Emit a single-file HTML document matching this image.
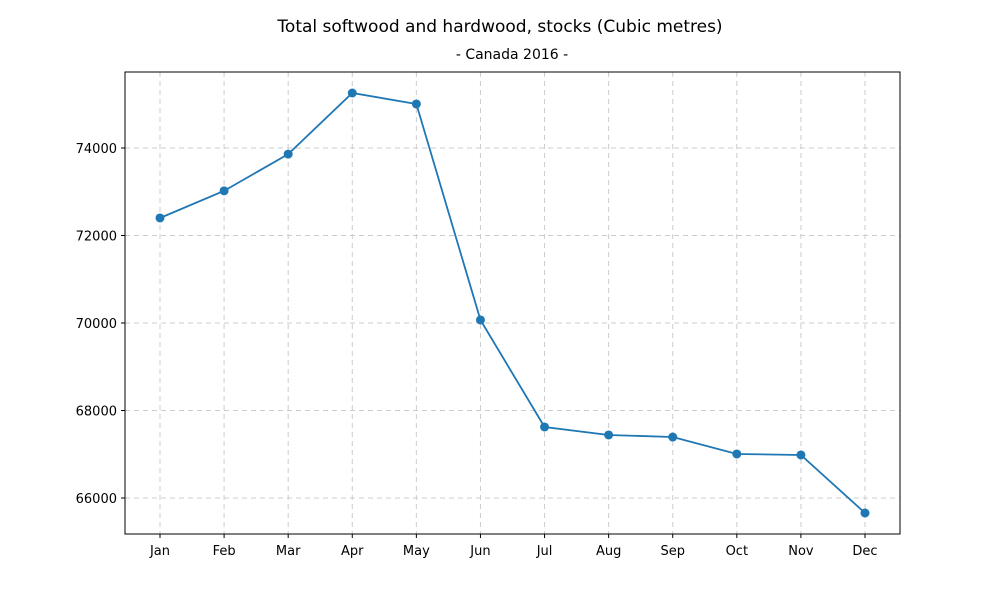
<!DOCTYPE html>
<html><head><meta charset="utf-8">
<style>
body{margin:0;background:#fff;}
svg{display:block;font-family:"DejaVu Sans","Liberation Sans",sans-serif;}
</style></head>
<body>
<svg id="chart" width="1000" height="600">
<text x="500" y="32" text-anchor="middle" font-size="17">Total softwood and hardwood, stocks (Cubic metres)</text>
<text x="512" y="59" text-anchor="middle" font-size="14">- Canada 2016 -</text>
<g id="grid"></g>
<g id="axes"></g>
<g id="series"></g>
<rect x="125" y="72" width="775" height="462" fill="none" stroke="#000" stroke-width="1"/>
</svg>
<script>
const categories=["Jan","Feb","Mar","Apr","May","Jun","Jul","Aug","Sep","Oct","Nov","Dec"];
const values=[72400,73020,73860,75257,75006,70069,67623,67440,67394,67006,66983,65657];
const yTicks=[66000,68000,70000,72000,74000];
const NS="http://www.w3.org/2000/svg";
const L=125,R=900,T=72,B=534,yMin=65177,yMax=75737;
const x=i=>160+i*(865-160)/(categories.length-1);
const y=v=>B-(v-yMin)/(yMax-yMin)*(B-T);
function mk(tag,attrs,parent){const e=document.createElementNS(NS,tag);for(const k in attrs)e.setAttribute(k,attrs[k]);parent.appendChild(e);return e;}
const grid=document.getElementById('grid'),axes=document.getElementById('axes'),series=document.getElementById('series');
categories.forEach((c,i)=>{
  const g=mk('line',{x1:x(i),x2:x(i),y1:T,y2:B,stroke:'#ccc','stroke-dasharray':'5,4'},grid);
  
  
  const t=mk('line',{x1:x(i),x2:x(i),y1:B,y2:B+4,stroke:'#000'},axes);
  
  
  const l=mk('text',{x:x(i),y:B+21,'text-anchor':'middle','font-size':'13'},axes);
  l.textContent=c;
  
  
});
yTicks.forEach(v=>{
  const g=mk('line',{x1:L,x2:R,y1:y(v),y2:y(v),stroke:'#ccc','stroke-dasharray':'5,4'},grid);
  
  
  const t=mk('line',{x1:L-4,x2:L,y1:y(v),y2:y(v),stroke:'#000'},axes);
  
  
  const l=mk('text',{x:L-8,y:y(v)+5,'text-anchor':'end','font-size':'13'},axes);
  l.textContent=v;
  
  
});
const line=mk('polyline',{points:values.map((v,i)=>x(i)+','+y(v)).join(' '),fill:'none',stroke:'#1f77b4','stroke-width':'1.8'},series);


values.forEach((v,i)=>{
  const p=mk('circle',{cx:x(i),cy:y(v),r:4.5,fill:'#1f77b4'},series);
  
  
});
</script>
</body></html>
